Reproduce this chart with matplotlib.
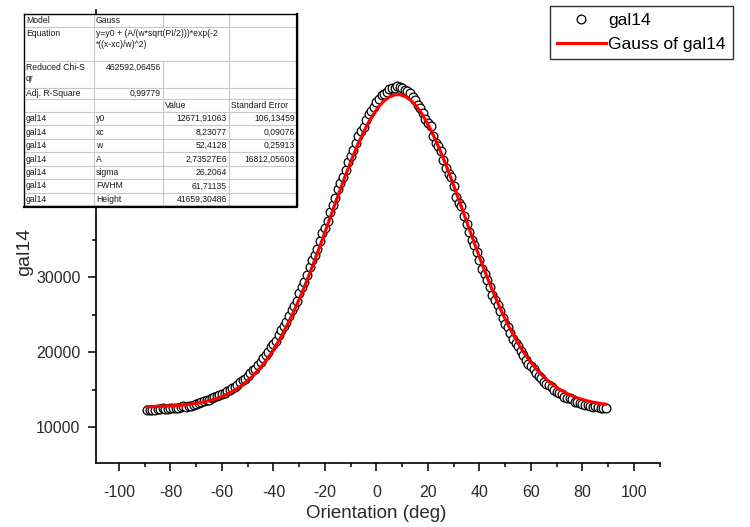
import matplotlib
matplotlib.use('Agg')
import matplotlib.pyplot as plt
from matplotlib.ticker import FixedLocator
from matplotlib.patches import Rectangle

plt.rcParams['font.family'] = ['Liberation Sans', 'DejaVu Sans']
plt.rcParams['axes.unicode_minus'] = False

# ---- data ----
orientation = list(range(-89, 90))
gal14 = [12260, 12300, 12310, 12290, 12370, 12410, 12470, 12450, 12450, 12540,
         12590, 12540, 12580, 12660, 12740, 12700, 12760, 12860, 12950, 13060,
         13160, 13280, 13450, 13580, 13660, 13810, 13960, 14120, 14240, 14430,
         14570, 14790, 15000, 15240, 15340, 15610, 15940, 16250, 16410, 16760,
         17160, 17550, 17790, 18220, 18720, 19190, 19540, 20060, 20610, 21040,
         21530, 22320, 22870, 23450, 24060, 24850, 25600, 26200, 26860, 27900,
         28660, 29340, 30250, 31270, 32220, 32930, 33750, 34840, 35840, 36590,
         37450, 38720, 39580, 40490, 41700, 42590, 43270, 44290, 45300, 46120,
         46930, 47850, 48760, 49460, 50050, 50920, 51680, 52110, 52620, 53280,
         53780, 54210, 54410, 54730, 55120, 55170, 55190, 55430, 55310, 55190,
         54900, 54740, 54550, 54020, 53560, 52930, 52560, 51830, 51060, 50530,
         50070, 48860, 47910, 47430, 46820, 45580, 44510, 43720, 43400, 42070,
         40730, 39890, 39420, 38170, 37090, 35940, 34970, 34240, 33380, 32250,
         31130, 30340, 29550, 28690, 27640, 26870, 26320, 25450, 24590, 23770,
         23270, 22550, 21750, 21190, 20750, 20140, 19550, 18890, 18450, 18090,
         17760, 17200, 16860, 16550, 16060, 15700, 15640, 15270, 14900, 14710,
         14540, 14380, 14040, 13860, 13890, 13700, 13400, 13280, 13260, 13100,
         13000, 12970, 12780, 12660, 12740, 12640, 12530, 12480, 12530]
fit_x = list(range(-89, 90, 2))
fit_y = [12715, 12728, 12746, 12769, 12798, 12836, 12882, 12941, 13013, 13103,
         13214, 13348, 13512, 13708, 13943, 14222, 14552, 14938, 15389, 15911,
         16510, 17191, 17966, 18835, 19806, 20882, 22065, 23357, 24755, 26256,
         27857, 29547, 31316, 33152, 35036, 36950, 38879, 40797, 42674, 44495,
         46232, 47857, 49348, 50677, 51825, 52775, 53509, 54016, 54285, 54313,
         54099, 53647, 52964, 52062, 50957, 49667, 48213, 46617, 44905, 43100,
         41231, 39323, 37394, 35474, 33581, 31732, 29947, 28239, 26616, 25091,
         23669, 22352, 21145, 20045, 19049, 18156, 17361, 16659, 16041, 15503,
         15037, 14636, 14293, 14003, 13758, 13553, 13383, 13242, 13127, 13032]

x_ticks = [-100, -80, -60, -40, -20, 0, 20, 40, 60, 80, 100]
x_minor = [-110, -90, -70, -50, -30, -10, 10, 30, 50, 70, 90, 110]
y_ticks = [10000, 20000, 30000]
y_minor = [5000, 15000, 25000, 35000]

table_rows = [
    ["Model", "Gauss", "", ""],
    ["Equation", "y=y0 + (A/(w*sqrt(PI/2)))*exp(-2\n*((x-xc)/w)^2)", "", ""],
    ["Reduced Chi-S\nqr", "462592,06456", "", ""],
    ["Adj. R-Square", "0,99779", "", ""],
    ["", "", "Value", "Standard Error"],
    ["gal14", "y0", "12671,91063", "106,13459"],
    ["gal14", "xc", "8,23077", "0,09076"],
    ["gal14", "w", "52,4128", "0,25913"],
    ["gal14", "A", "2,73527E6", "16812,05603"],
    ["gal14", "sigma", "26,2064", ""],
    ["gal14", "FWHM", "61,71135", ""],
    ["gal14", "Height", "41659,30486", ""],
]

W, H = 750, 527
fig = plt.figure(figsize=(7.5, 5.27), dpi=100)
left_px, right_px, bot_px, top_px = 95.8, 659.75, 463, 10
ax = fig.add_axes([left_px / W, 1 - bot_px / H, (right_px - left_px) / W, (bot_px - top_px) / H])
ax.set_xlim(-109, 110)
ax.set_ylim(5200, 65600)

ax.plot(orientation, gal14, linestyle='none', marker='o', markersize=6.3,
        markerfacecolor='white', markeredgecolor='black', markeredgewidth=0.9,
        label='gal14', zorder=2)
ax.plot(fit_x, fit_y, color='#ff0000', linewidth=2.3, label='Gauss of gal14', zorder=3)

for s in ['top', 'right']:
    ax.spines[s].set_visible(False)
for s in ['left', 'bottom']:
    ax.spines[s].set_linewidth(1.2)
    ax.spines[s].set_color('black')

ax.xaxis.set_major_locator(FixedLocator(x_ticks))
ax.xaxis.set_minor_locator(FixedLocator(x_minor))
ax.yaxis.set_major_locator(FixedLocator(y_ticks))
ax.yaxis.set_minor_locator(FixedLocator(y_minor))
ax.tick_params(axis='both', which='major', direction='out', length=6, width=1.1,
               labelsize=11.5, labelcolor='#2a2a2a')
ax.tick_params(axis='both', which='minor', direction='out', length=3, width=1.1)
ax.tick_params(axis='x', which='major', pad=10)
ax.tick_params(axis='y', which='major', pad=5)

ax.set_xlabel('Orientation (deg)', fontsize=13.5, color='#2a2a2a')
ax.set_ylabel('gal14', fontsize=14, color='#2a2a2a')
ax.xaxis.set_label_coords((376 - left_px) / (right_px - left_px), (bot_px - 505) / (bot_px - top_px))
ax.yaxis.set_label_coords((33 - left_px) / (right_px - left_px), (bot_px - 252) / (bot_px - top_px))

# legend
leg = fig.legend(loc='upper left', bbox_to_anchor=(550 / W, 1 - 6 / H),
                 frameon=True, fancybox=False, fontsize=12.5, handlelength=2.8,
                 handletextpad=0.15, borderpad=0.4, labelspacing=0.5,
                 borderaxespad=0)
leg.get_frame().set_edgecolor('black')
leg.get_frame().set_linewidth(1.0)

# ---- fit table (overlay in pixel coordinates) ----
ov = fig.add_axes([0, 0, 1, 1], zorder=5)
ov.set_xlim(0, W)
ov.set_ylim(H, 0)
ov.axis('off')
ov.patch.set_alpha(0)

col_x = [24, 94, 163, 229, 297]
row_y = [14, 27, 61, 88, 99, 112]
step = (206 - 112) / 7
for i in range(1, 8):
    row_y.append(112 + step * i)
tl, tr, tt, tb = col_x[0], col_x[-1], row_y[0], row_y[-1]
ov.add_patch(Rectangle((tl, tt), tr - tl, tb - tt, facecolor='white', edgecolor='none', zorder=1))
grid_c = '#c8c8c8'
for yv in row_y[1:-1]:
    ov.plot([tl, tr], [yv, yv], color=grid_c, lw=0.8, zorder=2)
for j, xv in enumerate(col_x[1:-1], start=1):
    if j == 2:
        ov.plot([xv, xv], [row_y[0], row_y[1]], color=grid_c, lw=0.8, zorder=2)
        ov.plot([xv, xv], [row_y[2], row_y[-1]], color=grid_c, lw=0.8, zorder=2)
    else:
        ov.plot([xv, xv], [row_y[0], row_y[-1]], color=grid_c, lw=0.8, zorder=2)
ov.plot([tl, tr, tr, tl, tl], [tt, tt, tb, tb, tt], color='black', lw=1.0, zorder=3)
ov.plot([tl, tr, tr], [tb + 1, tb + 1, tt], color='black', lw=1.6, zorder=3)

tfs = 6.2
for r, row in enumerate(table_rows):
    y0c, y1c = row_y[r], row_y[r + 1]
    for c, txt in enumerate(row):
        if not txt:
            continue
        right_align = (r in (2, 3) and c == 1) or (r >= 5 and c >= 2)
        multiline = '\n' in txt
        top_anchor = multiline or r in (1, 2)
        ty = y0c + 2 if top_anchor else (y0c + y1c) / 2
        va = 'top' if top_anchor else 'center'
        if right_align:
            ov.text(col_x[c + 1] - 2, ty, txt, ha='right', va=va, fontsize=tfs,
                    color='#1a1a1a', zorder=4, linespacing=1.3)
        else:
            ov.text(col_x[c] + 2, ty, txt, ha='left', va=va, fontsize=tfs,
                    color='#1a1a1a', zorder=4, linespacing=1.3)

fig.savefig('out.png', dpi=100)
